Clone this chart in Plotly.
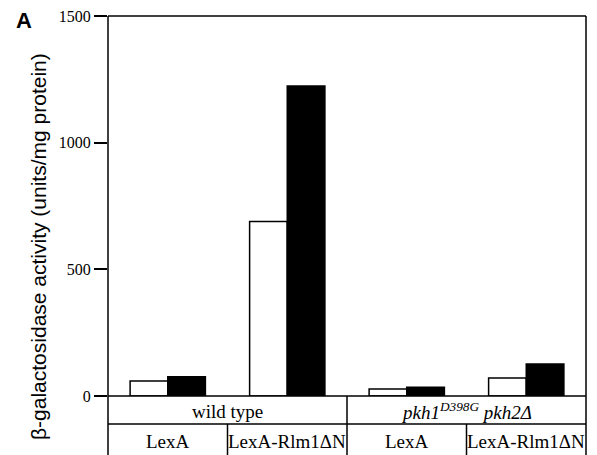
import plotly.graph_objects as go

# ---- data ----
conditions = ["wt_LexA", "wt_Rlm1", "pkh_LexA", "pkh_Rlm1"]
construct_labels = ["LexA", "LexA-Rlm1ΔN", "LexA", "LexA-Rlm1ΔN"]
strain_labels = ["wild type", "<i>pkh1<sup>D398G</sup> pkh2Δ</i>"]
white_values = [59, 689, 28, 71]
black_values = [76, 1224, 35, 126]
y_ticks = [0, 500, 1000, 1500]

OFF = 8  # page body margin
W, H = 597 - OFF, 455 - OFF
L, R, T = 108 - OFF, 11, 16 - OFF
B = H - (396 - OFF)
PW = W - L - R
ph = H - T - B
row_mid = -28 / ph
row_bot = -(B + 2) / ph


def px_x(x):
    return (x - OFF - L) / PW


def px_y(y):
    return (H - B - (y - OFF)) / ph


fig = go.Figure()
fig.add_trace(go.Bar(x=conditions, y=white_values,
                     marker=dict(color="white", line=dict(color="black", width=1.5)), showlegend=False))
fig.add_trace(go.Bar(x=conditions, y=black_values,
                     marker=dict(color="black", line=dict(color="black", width=1.5)), showlegend=False))

serif = "Liberation Serif, Times New Roman, serif"
sans = "Liberation Sans, Arial, sans-serif"
fig.update_layout(
    width=W, height=H, margin=dict(l=L, r=R, t=T, b=B, autoexpand=False),
    paper_bgcolor="white", plot_bgcolor="white",
    barmode="group", bargap=0.37, bargroupgap=0,
    xaxis=dict(type="category", categoryorder="array", categoryarray=conditions,
               showticklabels=False, ticks="", showgrid=False, zeroline=False,
               showline=False, range=[-0.5, 3.5], fixedrange=True),
    yaxis=dict(range=[0, 1500], tickvals=y_ticks, ticks="outside", ticklen=13,
               tickwidth=1.5, tickcolor="black", showgrid=False, zeroline=False,
               showline=False, ticklabeloverflow="allow",
               tickfont=dict(family=serif, size=16, color="black")),
)

line = dict(color="black", width=1.5)
# axis and frame
fig.add_shape(type="line", xref="paper", yref="paper", x0=0, x1=0, y0=row_bot, y1=1, line=line)
fig.add_shape(type="line", xref="paper", yref="paper", x0=1, x1=1, y0=row_bot, y1=1, line=line)
fig.add_shape(type="line", xref="paper", yref="paper", x0=0, x1=1, y0=1, y1=1, line=line)
fig.add_shape(type="line", xref="paper", yref="paper", x0=0, x1=1, y0=0, y1=0, line=line)
fig.add_shape(type="line", xref="paper", yref="paper", x0=0, x1=1, y0=row_mid, y1=row_mid, line=line)
# table dividers
fig.add_shape(type="line", xref="paper", yref="paper", x0=0.5, x1=0.5, y0=row_bot, y1=0, line=line)
for xc in (0.25, 0.75):
    fig.add_shape(type="line", xref="paper", yref="paper", x0=xc, x1=xc, y0=row_bot, y1=row_mid, line=line)

for i, s in enumerate(strain_labels):
    fig.add_annotation(x=0.25 + 0.5 * i, y=px_y(411), xref="paper", yref="paper",
                       xanchor="center", yanchor="middle",
                       text=s, showarrow=False, font=dict(family=serif, size=19, color="black"))
for i, c in enumerate(construct_labels):
    fig.add_annotation(x=0.125 + 0.25 * i, y=px_y(441), xref="paper", yref="paper",
                       xanchor="center", yanchor="middle",
                       text=c, showarrow=False, font=dict(family=serif, size=19, color="black"))

fig.add_annotation(x=px_x(38), y=px_y(247), xref="paper", yref="paper",
                   xanchor="center", yanchor="middle",
                   text="β-galactosidase activity (units/mg protein)", textangle=-90,
                   showarrow=False, font=dict(family=sans, size=21, color="black"))
fig.add_annotation(x=px_x(24), y=px_y(20), xref="paper", yref="paper",
                   xanchor="center", yanchor="middle",
                   text="<b>A</b>", showarrow=False,
                   font=dict(family=sans, size=22, color="black"))

fig.write_html("out.html")
